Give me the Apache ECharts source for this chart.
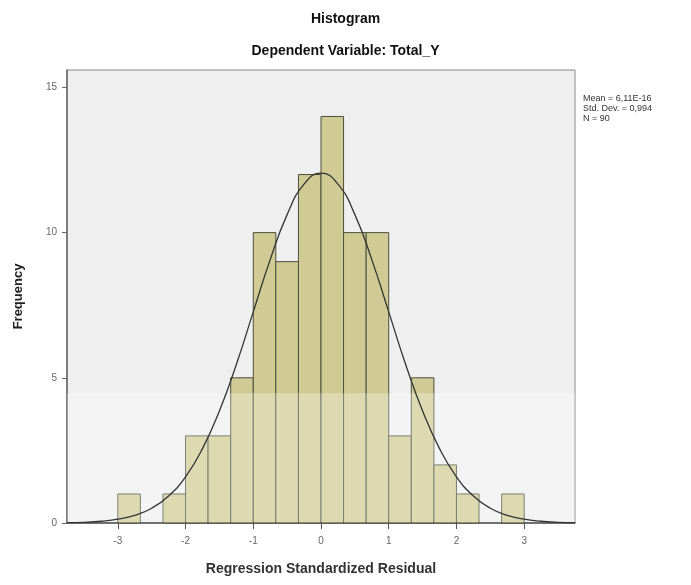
<!DOCTYPE html>
<html>
<head>
<meta charset="utf-8">
<script src="https://cdn.jsdelivr.net/npm/echarts@6/dist/echarts.min.js"></script>
<style>html,body{margin:0;padding:0;background:#fff;}#c{width:691px;height:585px;}</style>
</head>
<body>
<div id="c"></div>
<script>
// Histogram bin edges (Regression Standardized Residual)
const binEdges = [-3, -2.667, -2.333, -2, -1.667, -1.333, -1, -0.667, -0.333, 0,
                  0.333, 0.667, 1, 1.333, 1.667, 2, 2.333, 2.667, 3];
// Frequencies per bin
const counts = [1, 0, 1, 3, 3, 5, 10, 9, 12, 14, 10, 10, 3, 5, 2, 1, 0, 1];
// Normal curve points
const curveX = [-3.75, -3.5, -3.25, -3, -2.75, -2.5, -2.25, -2, -1.75, -1.5, -1.25, -1, -0.75, -0.5, -0.25, 0,
                0.25, 0.5, 0.75, 1, 1.25, 1.5, 1.75, 2, 2.25, 2.5, 2.75, 3, 3.25, 3.5, 3.75];
const curveY = [0.01, 0.02, 0.06, 0.13, 0.26, 0.51, 0.93, 1.59, 2.56, 3.86, 5.46, 7.27, 9.07, 10.62, 11.67, 12.05,
                11.67, 10.62, 9.07, 7.27, 5.46, 3.86, 2.56, 1.59, 0.93, 0.51, 0.26, 0.13, 0.06, 0.02, 0.01];
const xTicks = [-3, -2, -1, 0, 1, 2, 3];
const yTicks = [0, 5, 10, 15];
const statsLines = ['Mean = 6,11E-16', 'Std. Dev. = 0,994', 'N = 90'];

const barData = counts.map((c, i) => [binEdges[i], binEdges[i + 1], c]);
const lineData = curveX.map((x, i) => [x, curveY[i]]);

const chart = echarts.init(document.getElementById('c'), null, {renderer: 'canvas'});
const font = 'Arial, "Liberation Sans", sans-serif';
chart.setOption({
  animation: false,
  backgroundColor: '#ffffff',
  title: [
    {text: 'Histogram', left: 'center', top: 12, padding: 0,
     textStyle: {fontFamily: font, fontSize: 14, fontWeight: 'bold', color: '#111'}},
    {text: 'Dependent Variable: Total_Y', left: 'center', top: 44, padding: 0,
     textStyle: {fontFamily: font, fontSize: 14, fontWeight: 'bold', color: '#111'}},
    {text: statsLines.join('\n'), left: 583, top: 94, padding: 0,
     textStyle: {fontFamily: font, fontSize: 9, fontWeight: 'normal', color: '#333', lineHeight: 10}}
  ],
  grid: {left: 67, right: 116, top: 70, bottom: 62, show: true,
         backgroundColor: '#efefef', borderColor: '#8a8a8a', borderWidth: 1},
  xAxis: {
    type: 'value', min: -3.75, max: 3.75,
    name: 'Regression Standardized Residual', nameLocation: 'middle', nameGap: 39,
    nameTextStyle: {fontFamily: font, fontSize: 14, fontWeight: 'bold', color: '#333'},
    axisLine: {show: true, onZero: false, lineStyle: {color: '#555', width: 1.5}},
    axisTick: {show: true, length: 6, customValues: xTicks, lineStyle: {color: '#555'}},
    axisLabel: {customValues: xTicks, fontFamily: font, fontSize: 10, color: '#666', margin: 13},
    splitLine: {show: false}
  },
  yAxis: {
    type: 'value', min: 0, max: 15.6,
    name: 'Frequency', nameLocation: 'middle', nameGap: 42, nameRotate: 90,
    nameTextStyle: {fontFamily: font, fontSize: 13, fontWeight: 'bold', color: '#222'},
    axisLine: {show: true, onZero: false, lineStyle: {color: '#666', width: 1.5}},
    axisTick: {show: true, length: 5, customValues: yTicks, lineStyle: {color: '#666'}},
    axisLabel: {customValues: yTicks, fontFamily: font, fontSize: 10, color: '#666', margin: 10},
    splitLine: {show: false}
  },
  series: [
    {
      type: 'custom', z: 2,
      data: barData,
      encode: {x: [0, 1], y: 2},
      renderItem: function (params, api) {
        const h = api.value(2);
        if (!h) return null;
        const p0 = api.coord([api.value(0), 0]);
        const p1 = api.coord([api.value(1), h]);
        return {
          type: 'rect',
          shape: {x: p0[0], y: p1[1], width: p1[0] - p0[0], height: p0[1] - p1[1]},
          style: {fill: '#d0cb94', stroke: '#4e4d3c', lineWidth: 1}
        };
      }
    },
    {
      // lighter lower band seen in the picture
      type: 'custom', z: 5, silent: true,
      data: [[-3.75, 3.75, 4.47]],
      encode: {x: [0, 1], y: 2},
      renderItem: function (params, api) {
        const p0 = api.coord([api.value(0), 0]);
        const p1 = api.coord([api.value(1), api.value(2)]);
        return {
          type: 'rect',
          shape: {x: p0[0], y: p1[1], width: p1[0] - p0[0], height: p0[1] - p1[1] - 1},
          style: {fill: 'rgba(255,255,255,0.28)'}
        };
      }
    },
    {
      type: 'line', z: 6, data: lineData, smooth: true, showSymbol: false,
      lineStyle: {color: '#333', width: 1.3}
    }
  ]
});
</script>
</body>
</html>
